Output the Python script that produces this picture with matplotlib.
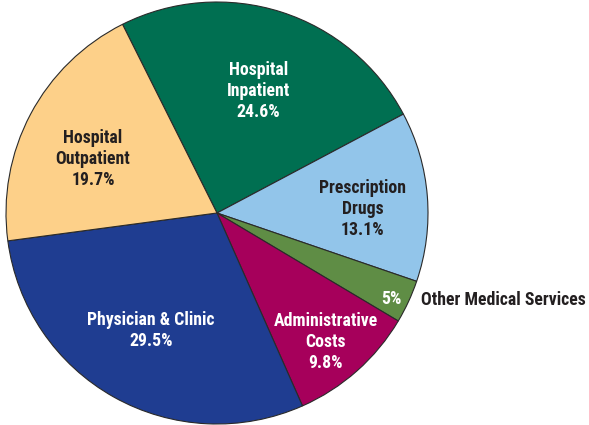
import matplotlib
matplotlib.use("Agg")
import matplotlib.pyplot as plt
import numpy as np

categories = ["Hospital\nInpatient", "Prescription\nDrugs", "", "Administrative\nCosts",
              "Physician & Clinic", "Hospital\nOutpatient"]
# drawn shares (as measured from the slice geometry)
shares = [24.6, 13.0, 3.3, 9.8, 29.5, 19.7]
# printed percentages
pct_labels = ["24.6%", "13.1%", "5%", "9.8%", "29.5%", "19.7%"]
outside_label = "Other Medical Services"

colors = ["#006f51", "#92c5ea", "#5f8d45", "#a6005b", "#1f3d91", "#fdd089"]
text_colors = ["white", "#231f20", "white", "white", "white", "#231f20"]
label_dist = [0.61, 0.69, 0.92, 0.80, 0.64, 0.64]
label_angle_offset = [-1.0, -3.0, -1.5, -1.5, 0.0, 4.5]

fam = ["Roboto Condensed", "Liberation Sans Narrow", "DejaVu Sans"]

W, H = 589, 425
fig = plt.figure(figsize=(W / 100, H / 100), dpi=100)
cx, cy, R = 217, 213, 211
ax = fig.add_axes([(cx - R) / W, 1 - (cy + R) / H, 2 * R / W, 2 * R / H])
wedges, _ = ax.pie(shares, colors=colors, startangle=116.6, counterclock=False,
                   wedgeprops=dict(edgecolor="#2a2a2a", linewidth=0.8))
ax.set_xlim(-1, 1)
ax.set_ylim(-1, 1)
ax.set_aspect("equal")
ax.axis("off")

for w, cat, pct, tc, d, off in zip(wedges, categories, pct_labels, text_colors,
                                    label_dist, label_angle_offset):
    mid = np.deg2rad((w.theta1 + w.theta2) / 2 + off)
    txt = (cat + "\n" + pct) if cat else pct
    ax.text(d * np.cos(mid), d * np.sin(mid), txt, ha="center", va="center",
            color=tc, fontsize=12.8, fontweight="bold", family=fam,
            linespacing=1.22)

ax.text(0.967, -0.41, outside_label, ha="left", va="center", color="#231f20",
        fontsize=12.8, fontweight="bold", family=fam, clip_on=False)

fig.savefig("out.png", dpi=100)
